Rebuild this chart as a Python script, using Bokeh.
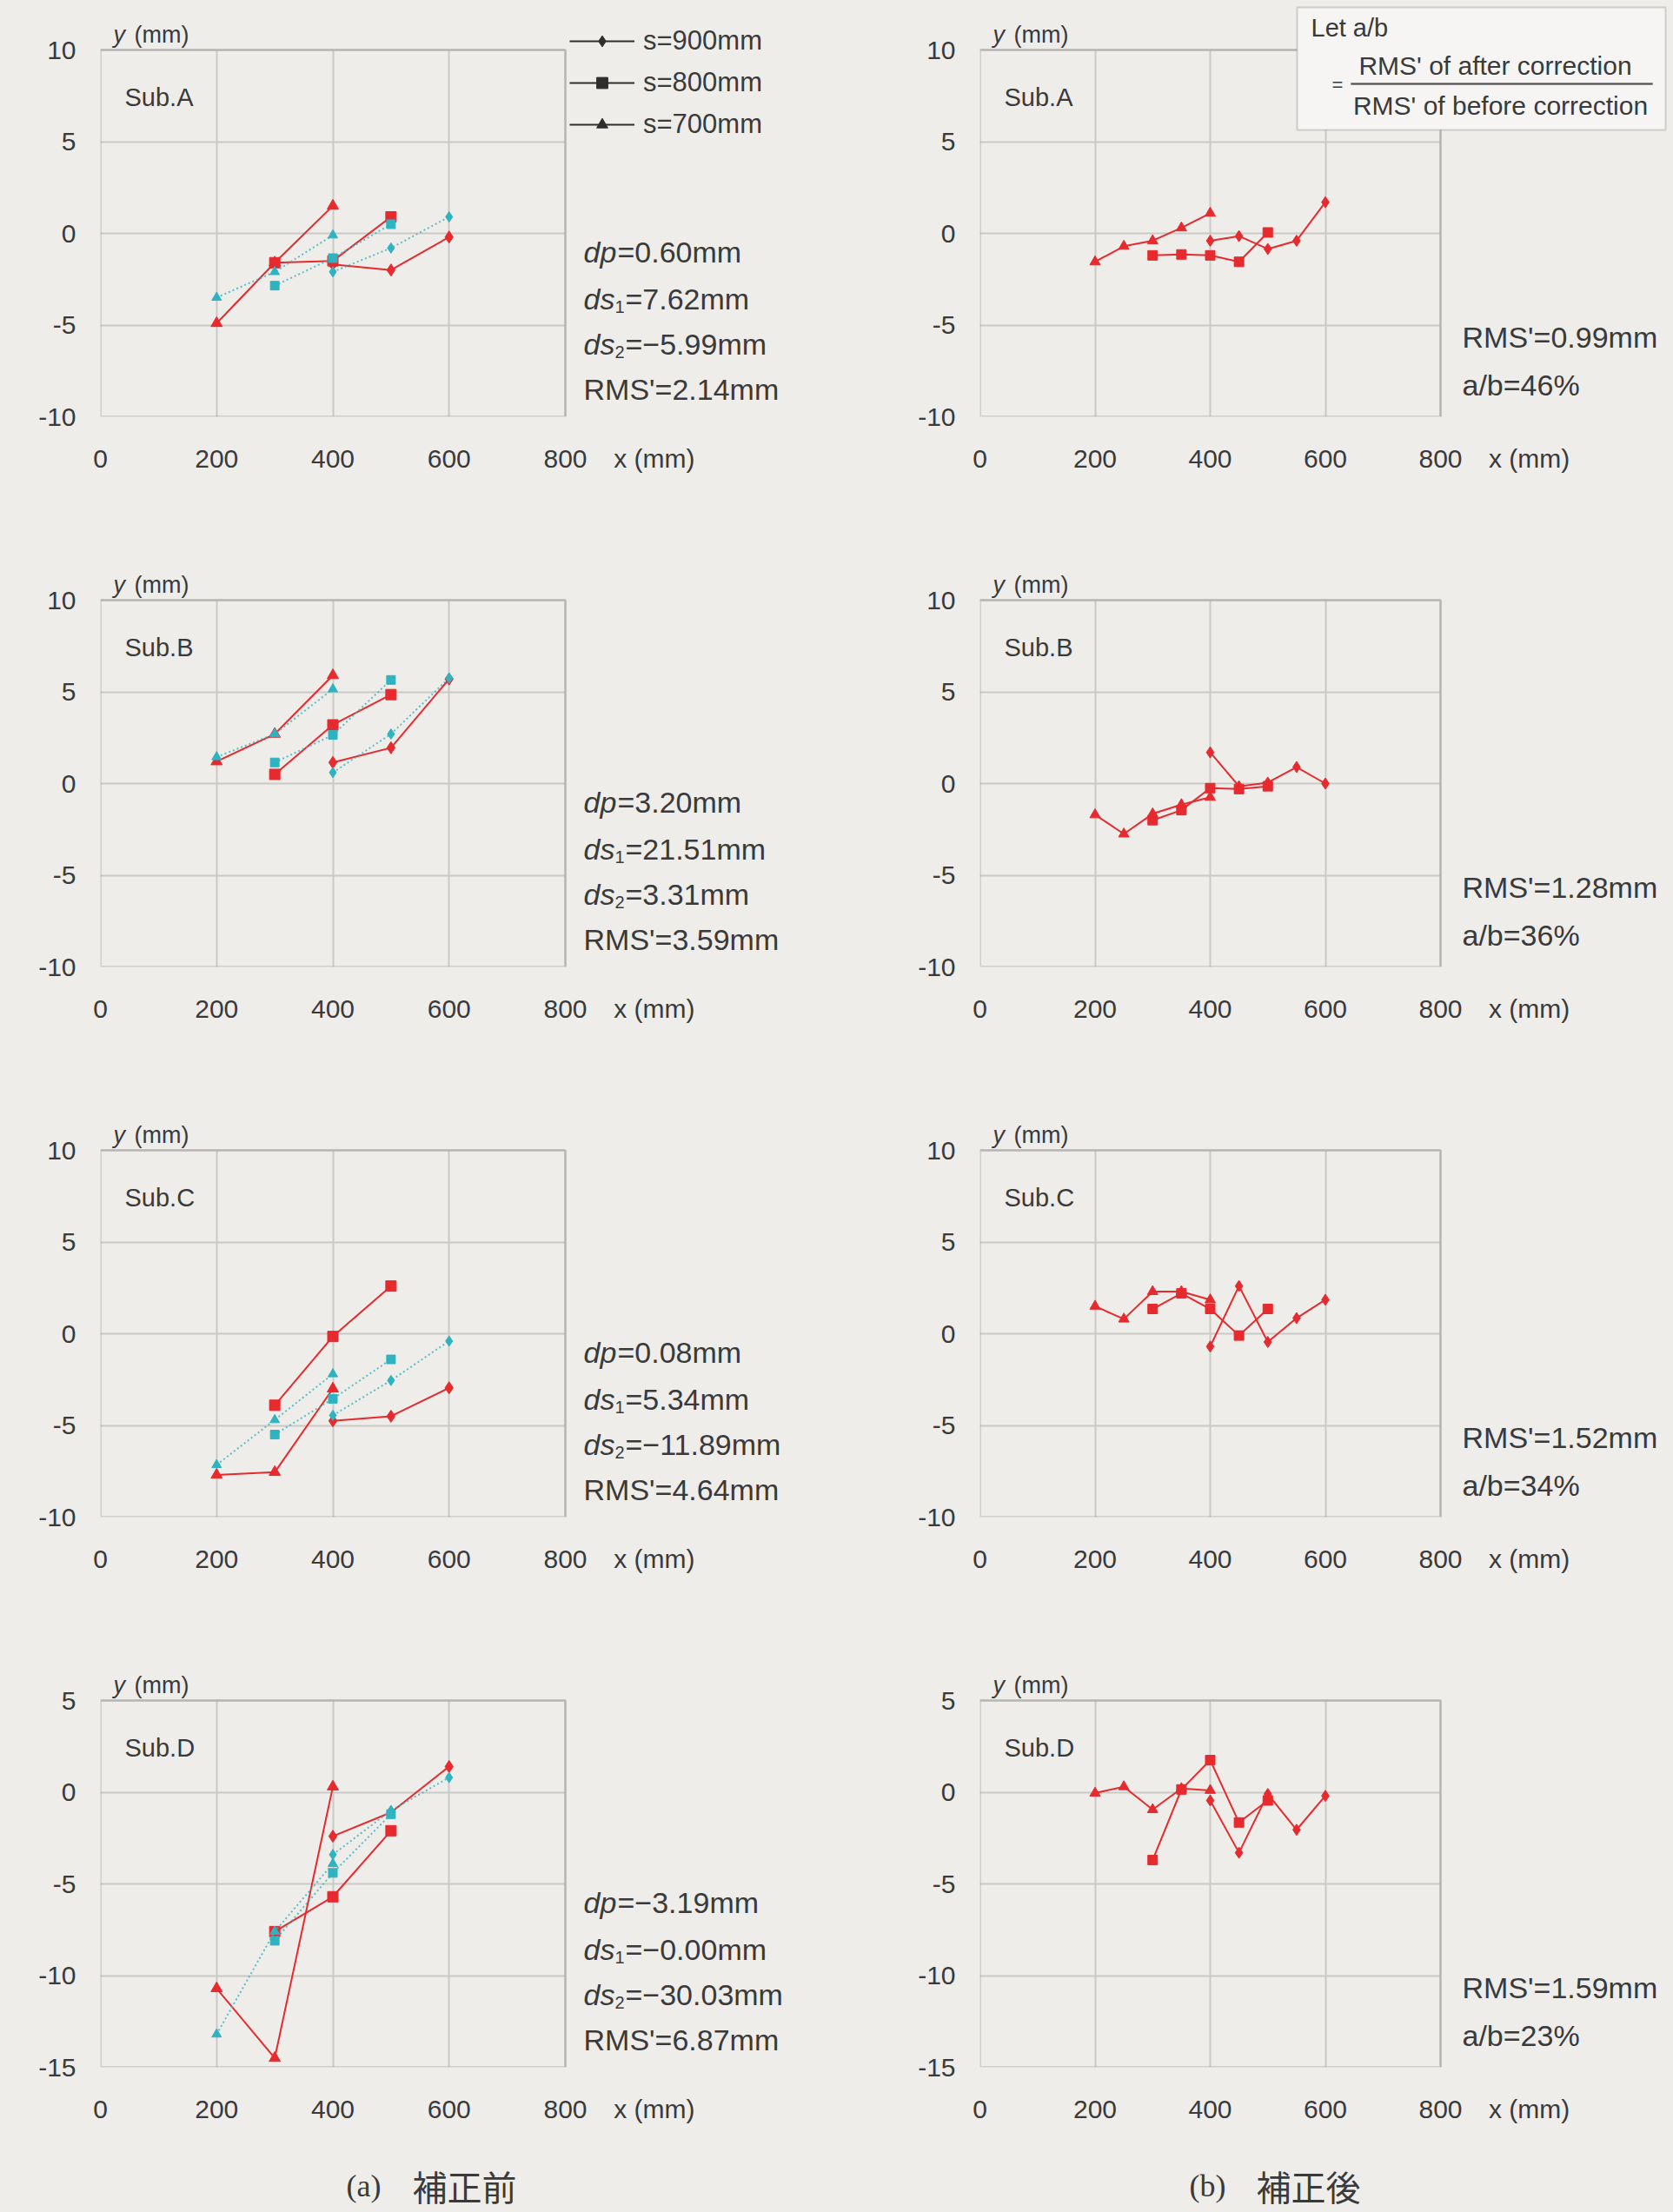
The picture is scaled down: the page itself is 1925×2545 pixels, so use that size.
from bokeh.plotting import figure
from bokeh.layouts import column, row
from bokeh.models import Label, Legend, LegendItem, BoxAnnotation, FixedTicker, Range1d
from bokeh.embed import file_html
from bokeh.resources import INLINE

# ---------------- colours / fonts ----------------
BG = "#efedea"
RED = "#e62a2e"
CYAN = "#2fb3c0"
GRID = "#cbc9c6"
FRAME = "#8a8885"
TXT = "#3a3a3a"
FONT = "Liberation Sans"

# ---------------- data ----------------
X_TICKS = [0, 200, 400, 600, 800]
Y_TICKS_ABC = [-10, -5, 0, 5, 10]
Y_TICKS_D = [-15, -10, -5, 0, 5]

X_BEFORE_S900 = [400, 500, 600]
X_BEFORE_S800 = [300, 400, 500]
X_BEFORE_S700 = [200, 300, 400]
X_AFTER_S900 = [400, 450, 500, 550, 600]
X_AFTER_S800 = [300, 350, 400, 450, 500]
X_AFTER_S700 = [200, 250, 300, 350, 400]

# (a) before correction -- measured (red) and model (cyan)
A_MEAS_S900 = [-1.7, -2.0, -0.2]
A_MEAS_S800 = [-1.6, -1.5, 0.9]
A_MEAS_S700 = [-4.9, -1.6, 1.5]
A_MODEL_S900 = [-2.1, -0.8, 0.9]
A_MODEL_S800 = [-2.85, -1.35, 0.5]
A_MODEL_S700 = [-3.5, -2.1, -0.1]

B_MEAS_S900 = [1.15, 1.95, 5.7]
B_MEAS_S800 = [0.5, 3.2, 4.85]
B_MEAS_S700 = [1.2, 2.7, 5.9]
B_MODEL_S900 = [0.6, 2.7, 5.75]
B_MODEL_S800 = [1.15, 2.65, 5.65]
B_MODEL_S700 = [1.45, 2.7, 5.15]

C_MEAS_S900 = [-4.75, -4.5, -2.95]
C_MEAS_S800 = [-3.9, -0.15, 2.6]
C_MEAS_S700 = [-7.7, -7.55, -3.0]
C_MODEL_S900 = [-4.45, -2.55, -0.4]
C_MODEL_S800 = [-5.5, -3.55, -1.4]
C_MODEL_S700 = [-7.15, -4.7, -2.2]

D_MEAS_S900 = [-2.4, -1.1, 1.4]
D_MEAS_S800 = [-7.6, -5.7, -2.1]
D_MEAS_S700 = [-10.7, -14.5, 0.3]
D_MODEL_S900 = [-3.4, -1.0, 0.8]
D_MODEL_S800 = [-8.1, -4.4, -1.2]
D_MODEL_S700 = [-13.2, -7.6, -3.9]

# (b) after correction
A_AFTER_S900 = [-0.4, -0.15, -0.85, -0.4, 1.7]
A_AFTER_S800 = [-1.2, -1.15, -1.2, -1.55, 0.05]
A_AFTER_S700 = [-1.55, -0.7, -0.4, 0.3, 1.1]

B_AFTER_S900 = [1.7, -0.15, 0.05, 0.9, 0.0]
B_AFTER_S800 = [-2.0, -1.45, -0.25, -0.3, -0.15]
B_AFTER_S700 = [-1.7, -2.75, -1.65, -1.15, -0.75]

C_AFTER_S900 = [-0.7, 2.6, -0.45, 0.85, 1.85]
C_AFTER_S800 = [1.35, 2.2, 1.35, -0.1, 1.35]
C_AFTER_S700 = [1.5, 0.8, 2.3, 2.3, 1.85]

D_AFTER_S900 = [-0.45, -3.3, -0.1, -2.05, -0.2]
D_AFTER_S800 = [-3.7, 0.15, 1.75, -1.65, -0.45]
D_AFTER_S700 = [-0.05, 0.3, -0.95, 0.2, 0.1]

SUB_NAMES = ["Sub.A", "Sub.B", "Sub.C", "Sub.D"]
LEGEND_LABELS = ["s=900mm", "s=800mm", "s=700mm"]
MARKERS = ["diamond", "square", "triangle"]

BEFORE_TEXTS = [
    ("0.60mm", "7.62mm", "\u22125.99mm", "2.14mm"),
    ("3.20mm", "21.51mm", "3.31mm", "3.59mm"),
    ("0.08mm", "5.34mm", "\u221211.89mm", "4.64mm"),
    ("\u22123.19mm", "\u22120.00mm", "\u221230.03mm", "6.87mm"),
]
AFTER_TEXTS = [("0.99mm", "46%"), ("1.28mm", "36%"), ("1.52mm", "34%"), ("1.59mm", "23%")]

# tables built from the arrays above
BEFORE = [
    [(X_BEFORE_S900, A_MEAS_S900, A_MODEL_S900), (X_BEFORE_S800, A_MEAS_S800, A_MODEL_S800), (X_BEFORE_S700, A_MEAS_S700, A_MODEL_S700)],
    [(X_BEFORE_S900, B_MEAS_S900, B_MODEL_S900), (X_BEFORE_S800, B_MEAS_S800, B_MODEL_S800), (X_BEFORE_S700, B_MEAS_S700, B_MODEL_S700)],
    [(X_BEFORE_S900, C_MEAS_S900, C_MODEL_S900), (X_BEFORE_S800, C_MEAS_S800, C_MODEL_S800), (X_BEFORE_S700, C_MEAS_S700, C_MODEL_S700)],
    [(X_BEFORE_S900, D_MEAS_S900, D_MODEL_S900), (X_BEFORE_S800, D_MEAS_S800, D_MODEL_S800), (X_BEFORE_S700, D_MEAS_S700, D_MODEL_S700)],
]
AFTER = [
    [(X_AFTER_S900, A_AFTER_S900), (X_AFTER_S800, A_AFTER_S800), (X_AFTER_S700, A_AFTER_S700)],
    [(X_AFTER_S900, B_AFTER_S900), (X_AFTER_S800, B_AFTER_S800), (X_AFTER_S700, B_AFTER_S700)],
    [(X_AFTER_S900, C_AFTER_S900), (X_AFTER_S800, C_AFTER_S800), (X_AFTER_S700, C_AFTER_S700)],
    [(X_AFTER_S900, D_AFTER_S900), (X_AFTER_S800, D_AFTER_S800), (X_AFTER_S700, D_AFTER_S700)],
]

# ---------------- layout geometry ----------------
# The frame of each figure starts at the plot box's left/bottom edge and reaches
# over the free space above and to the right, so that texts drawn there are kept.
LEFT = dict(width=970, bw=535, left=115)    # bw: width of the plot box in px
RIGHT = dict(width=954, bw=530, left=157)
ABOVE = 57          # free space above the plot box (inside the frame)
BH = 422            # height of the plot box
BOTTOMS = [154, 154, 154, 70]
CAP_H = 96
MSIZE = {"diamond": 14, "square": 12, "triangle": 13}
XLAB_OFF = 102      # px right of the box edge where "x (mm)" is centred


def make_fig(colspec, ylim, yticks, bottom):
    ymin, ymax = ylim
    fw = colspec["width"] - colspec["left"]
    xend = 800 * fw / colspec["bw"]
    yend = ymax + ABOVE / BH * (ymax - ymin)
    p = figure(width=colspec["width"], height=ABOVE + BH + bottom,
               x_range=Range1d(0, xend), y_range=Range1d(ymin, yend),
               output_backend="svg", toolbar_location=None, title=None,
               min_border_left=colspec["left"], min_border_right=0,
               min_border_top=0, min_border_bottom=bottom)
    p.background_fill_color = BG
    p.border_fill_color = BG
    p.outline_line_color = None
    xlab = int(round(800 + XLAB_OFF / colspec["bw"] * 800))
    p.xaxis.ticker = FixedTicker(ticks=X_TICKS + [xlab])
    p.xaxis.major_label_overrides = {xlab: "x (mm)"}
    p.yaxis.ticker = FixedTicker(ticks=yticks)
    p.yaxis.major_label_overrides = {t: str(t) for t in yticks}
    p.axis.axis_line_color = None
    p.axis.major_tick_line_color = None
    p.axis.minor_tick_line_color = None
    p.axis.major_label_text_font = FONT
    p.axis.major_label_text_font_size = "30px"
    p.axis.major_label_text_color = TXT
    p.xaxis.major_label_standoff = 25
    p.yaxis.major_label_standoff = 22
    p.xgrid.ticker = FixedTicker(ticks=X_TICKS)
    p.ygrid.ticker = FixedTicker(ticks=yticks)
    p.grid.grid_line_color = GRID
    p.grid.grid_line_width = 2
    try:
        p.xgrid.cross_bounds = (ymin, ymax)
        p.ygrid.cross_bounds = (0, 800)
    except Exception:
        p.grid.visible = False
        p.segment(x0=X_TICKS, y0=[ymin] * len(X_TICKS), x1=X_TICKS, y1=[ymax] * len(X_TICKS),
                  line_color=GRID, line_width=2, level="underlay")
        p.segment(x0=[0] * len(yticks), y0=yticks, x1=[800] * len(yticks), y1=yticks,
                  line_color=GRID, line_width=2, level="underlay")
    # the plot box
    p.add_layout(BoxAnnotation(left=0, right=800, bottom=ymin, top=ymax,
                               fill_color=None, fill_alpha=0, line_color=FRAME, line_width=3,
                               level="underlay"))
    return p


def add_text(p, geo, dx, dy, text, size, italic=False, align="left", font=FONT):
    x = dx / geo["bw"] * 800
    y = geo["ymax"] - dy / BH * (geo["ymax"] - geo["ymin"])
    p.add_layout(Label(x=x, y=y, text=text, text_font=font, text_font_size=f"{size}px",
                       text_font_style="italic" if italic else "normal", text_color=TXT,
                       text_align=align, text_baseline="middle", level="overlay"))


def common_texts(p, geo, name):
    add_text(p, geo, 15, -18, "y", 27, italic=True)
    add_text(p, geo, 39, -18, "(mm)", 27)
    add_text(p, geo, 28, 54, name, 29)


rows = []
for i in range(4):
    ylim = (-15, 5) if i == 3 else (-10, 10)
    yticks = Y_TICKS_D if i == 3 else Y_TICKS_ABC
    # ----- (a) before -----
    pl = make_fig(LEFT, ylim, yticks, BOTTOMS[i])
    gl = dict(bw=LEFT["bw"], ymin=ylim[0], ymax=ylim[1])
    for (xs, meas, model), mk in zip(BEFORE[i], MARKERS):
        pl.line(xs, meas, line_color=RED, line_width=2)
        pl.scatter(xs, meas, marker=mk, size=MSIZE[mk], fill_color=RED, line_color=RED)
    for (xs, meas, model), mk in zip(BEFORE[i], MARKERS):
        pl.line(xs, model, line_color=CYAN, line_width=2, line_dash="2 3", line_alpha=0.8)
        pl.scatter(xs, model, marker=mk, size=MSIZE[mk] - 2, fill_color=CYAN, line_color=CYAN)
    common_texts(pl, gl, SUB_NAMES[i])
    dp, ds1, ds2, rms = BEFORE_TEXTS[i]
    fx = LEFT["bw"] + 21
    add_text(pl, gl, fx, 232, "dp", 34, italic=True)
    add_text(pl, gl, fx + 39, 232, "=" + dp, 34)
    add_text(pl, gl, fx, 286, "ds", 34, italic=True)
    add_text(pl, gl, fx + 36, 295, "1", 20)
    add_text(pl, gl, fx + 48, 286, "=" + ds1, 34)
    add_text(pl, gl, fx, 338, "ds", 34, italic=True)
    add_text(pl, gl, fx + 36, 347, "2", 20)
    add_text(pl, gl, fx + 48, 338, "=" + ds2, 34)
    add_text(pl, gl, fx, 390, "RMS'=" + rms, 34)

    if i == 0:
        # legend keys: hidden black copies of the measured series
        items = []
        for (xs, meas, model), lab_txt, mk in zip(BEFORE[0], LEGEND_LABELS, MARKERS):
            lr = pl.line(xs, meas, line_color="#2e2e2e", line_width=2, visible=False)
            sr = pl.scatter(xs, meas, marker=mk, size=12, fill_color="#2e2e2e",
                            line_color="#2e2e2e", visible=False)
            items.append(LegendItem(label=lab_txt, renderers=[lr, sr]))
        leg = Legend(items=items, location=(540, BH - 104), orientation="vertical",
                     glyph_width=75, glyph_height=32, label_height=30, spacing=12,
                     padding=0, margin=0, label_standoff=10,
                     border_line_color=None, background_fill_alpha=0,
                     inactive_fill_alpha=0,
                     label_text_font=FONT, label_text_font_size="31px",
                     label_text_color=TXT)
        pl.add_layout(leg)

    # ----- (b) after -----
    pr = make_fig(RIGHT, ylim, yticks, BOTTOMS[i])
    gr = dict(bw=RIGHT["bw"], ymin=ylim[0], ymax=ylim[1])
    for (xs, ys), mk in zip(AFTER[i], MARKERS):
        pr.line(xs, ys, line_color=RED, line_width=2)
        pr.scatter(xs, ys, marker=mk, size=MSIZE[mk] - 1, fill_color=RED, line_color=RED)
    common_texts(pr, gr, SUB_NAMES[i])
    rms, ab = AFTER_TEXTS[i]
    add_text(pr, gr, RIGHT["bw"] + 25, 330, "RMS'=" + rms, 34)
    add_text(pr, gr, RIGHT["bw"] + 25, 385, "a/b=" + ab, 34)

    if i == 0:
        bw = RIGHT["bw"]

        def gx(dx):
            return dx / bw * 800

        def gy(dy):
            return ylim[1] - dy / BH * (ylim[1] - ylim[0])

        pr.add_layout(BoxAnnotation(left=gx(365), right=gx(789), top=gy(-49), bottom=gy(92),
                                    fill_color="#f6f5f3", fill_alpha=1.0,
                                    line_color="#7b7976", line_width=2, level="overlay"))
        pr.add_layout(BoxAnnotation(left=gx(427), right=gx(774), top=gy(38), bottom=gy(40),
                                    fill_color="#555555", fill_alpha=1.0,
                                    line_color="#555555", line_width=1, level="overlay"))
        add_text(pr, gr, 381, -26, "Let  a/b", 29)
        add_text(pr, gr, 593, 18, "RMS' of after correction", 30, align="center")
        add_text(pr, gr, 599, 64, "RMS' of before correction", 30, align="center")
        add_text(pr, gr, 405, 40, "=", 22)

    rows.append(row(pl, pr))

# ----- captions -----
cap = figure(width=LEFT["width"] + RIGHT["width"], height=CAP_H,
             x_range=Range1d(0, LEFT["width"] + RIGHT["width"]), y_range=Range1d(0, CAP_H),
             output_backend="svg", toolbar_location=None, title=None,
             x_axis_type=None, y_axis_type=None, min_border=0)
cap.background_fill_color = BG
cap.border_fill_color = BG
cap.outline_line_color = None
cap.grid.visible = False
for xx, txt, fnt, sz in [(398, "(a)", "Liberation Serif", 36), (474, "補正前", "Noto Sans CJK JP", 40),
                         (1368, "(b)", "Liberation Serif", 36), (1445, "補正後", "Noto Sans CJK JP", 40)]:
    cap.add_layout(Label(x=xx, y=30, text=txt, text_font=fnt, text_font_size=f"{sz}px",
                         text_color=TXT, text_baseline="middle", text_align="left"))

layout = column(*rows, cap)

html = file_html(layout, INLINE)
html = html.replace("<head>", "<head><style>html,body{background:%s;}</style>" % BG, 1)
open("out.html", "w").write(html)
